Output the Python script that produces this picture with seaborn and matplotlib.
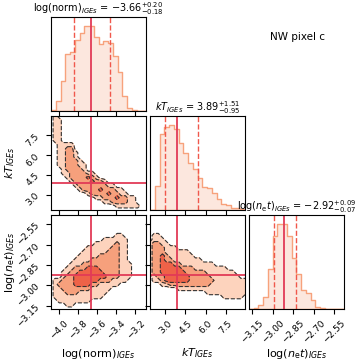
import numpy as np
import pandas as pd
import matplotlib
matplotlib.use("Agg")
import matplotlib.pyplot as plt
import seaborn as sns

# ─── DATA ───────────────────────────────────────────────
LABELS  = [r"$\mathrm{log(norm)}_{IGEs}$", r"$kT_{IGEs}$", r"$\mathrm{log}(n_{\mathrm{e}}t)_{IGEs}$"]
MEDIANS = [-3.66, 3.89, -2.92]
ERR_LO  = [0.18, 0.95, 0.07]
ERR_HI  = [0.20, 1.51, 0.09]
RANGES  = [(-4.08, -3.09), (1.85, 8.95), (-3.175, -2.48)]
TICKS   = [[-4.0, -3.8, -3.6, -3.4, -3.2],
           [3.0, 4.5, 6.0, 7.5],
           [-3.15, -3.00, -2.85, -2.70, -2.55]]

# 20-bin histogram counts
HIST_NORM = [2, 30, 89, 172, 177, 215, 234, 255, 257, 224, 202, 212, 204, 165, 117, 44, 10, 2, 0, 0]
HIST_KT   = [1, 72, 232, 254, 260, 247, 204, 174, 142, 124, 97, 70, 67, 52, 34, 17, 14, 7, 7, 2]
HIST_NET  = [1, 2, 12, 37, 120, 220, 256, 256, 220, 152, 104, 57, 47, 27, 7, 2, 0, 0, 0, 0]

# 2D panels: sigma-level (0..3) on a 24x24 grid, top row first
GRID_NORM_KT = [
    "010000000000000000000000",
    "011000000000000000000000",
    "011000000000000000000000",
    "011000000000000000000000",
    "011000000000000000000000",
    "011000000000000000000000",
    "011000000000000000000000",
    "001111000000000000000000",
    "001122000000000000000000",
    "001122100000000000000000",
    "001122100000000000000000",
    "001122210000000000000000",
    "001122211000000000000000",
    "000122221000000000000000",
    "000112222110000000000000",
    "000012222321000000000000",
    "000001222232210000000000",
    "000000122222221100000000",
    "000000012222322211000000",
    "000000000122223221100000",
    "000000000001122232211000",
    "000000000000011222211000",
    "000000000000000011111100",
    "000000000000000000000000",
]
GRID_NORM_NET = [
    "000000000000000000000000",
    "000000000000000000000000",
    "000000000000000000000000",
    "000000000000000000000000",
    "000000000000000000000000",
    "000000000000000011000000",
    "000000000000011111100000",
    "000000000001111121100000",
    "000000000111111221100000",
    "000000001111112221100000",
    "000000011111222221100000",
    "000000111122222221100000",
    "000001112222222221110000",
    "000011222333222221110000",
    "000112233333322221110000",
    "000122333333332221110000",
    "011222333333222111100000",
    "012222333322111110000000",
    "011222222211111000000000",
    "011122211111110000000000",
    "011111111111100000000000",
    "001111111100000000000000",
    "000011000000000000000000",
    "000000000000000000000000",
]
GRID_KT_NET = [
    "000000000000000000000000",
    "000000000000000000000000",
    "000000000000000000000000",
    "000000000000000000000000",
    "000000000000000000000000",
    "011000000000000000000000",
    "011100000000000000000000",
    "122110000000000000000000",
    "122211100000000000000000",
    "122211111100000000000000",
    "122321111110000000000000",
    "122322111111100000000000",
    "122333221111111100000000",
    "122333332221111111100000",
    "122333333222221111111000",
    "012233333322222111111100",
    "011233333322222211111111",
    "000112222222222111111111",
    "000000011111111111111111",
    "000000000000001111111111",
    "000000000000000000111110",
    "000000000000000000000000",
    "000000000000000000000000",
    "000000000000000000000000",
]

# ─── STYLE ──────────────────────────────────────────────
HIST_COLOR  = "#F7A27C"
FILL_COLORS = ["#FDD3BD", "#F6A07C", "#EE6248"]
TRUTH_COLOR = "#E23B57"
Q_COLOR     = "#F0584C"
FS = 6.5

plt.rcParams["font.family"] = "DejaVu Sans"
plt.rcParams["mathtext.fontset"] = "dejavusans"

fig = plt.figure(figsize=(3.57, 3.61), dpi=100)
W, H = 357, 361
col_x = [51, 150, 249]
row_y = [17, 116, 215]
aw, ah = 95, 94


def make_ax(r, c):
    return fig.add_axes([col_x[c] / W, 1 - (row_y[r] + ah) / H, aw / W, ah / H])


def style_ticks(ax):
    ax.tick_params(labelsize=FS, length=3.5, width=0.8, direction="out")
    for s in ax.spines.values():
        s.set_linewidth(0.8)


def draw_2d(ax, rows, xr, yr):
    z = np.array([[int(ch) for ch in row] for row in rows], dtype=float)
    xs = np.linspace(xr[0], xr[1], z.shape[1])
    ys = np.linspace(yr[1], yr[0], z.shape[0])
    ax.contourf(xs, ys, z, levels=[0.5, 1.5, 2.5, 3.5], colors=FILL_COLORS)
    ax.contour(xs, ys, z, levels=[0.5, 1.5, 2.5], colors="#333333",
               linewidths=0.8, linestyles="--")


hists = [HIST_NORM, HIST_KT, HIST_NET]
grids = {(1, 0): GRID_NORM_KT, (2, 0): GRID_NORM_NET, (2, 1): GRID_KT_NET}

for r in range(3):
    for c in range(r + 1):
        ax = make_ax(r, c)
        xr = RANGES[c]
        if r == c:
            edges = np.linspace(xr[0], xr[1], 21)
            hdf = pd.DataFrame({"value": 0.5 * (edges[:-1] + edges[1:]),
                                "count": hists[c]})
            sns.histplot(data=hdf, x="value", weights="count", bins=edges.tolist(),
                         element="step", fill=True, color=HIST_COLOR, alpha=0.25,
                         linewidth=1.0, edgecolor=HIST_COLOR, ax=ax)
            ax.set_ylim(0, 1.1 * max(hists[c]))
            ax.set_yticks([])
            ax.set_ylabel("")
            ax.axvline(MEDIANS[c], color=TRUTH_COLOR, lw=1.3)
            for q in (MEDIANS[c] - ERR_LO[c], MEDIANS[c] + ERR_HI[c]):
                ax.axvline(q, color=Q_COLOR, lw=1.0, ls="--")
            title = LABELS[c] + " = " + r"$%.2f_{-%.2f}^{+%.2f}$" % (MEDIANS[c], ERR_LO[c], ERR_HI[c])
            ax.set_title(title, fontsize=FS + 0.5, pad=1.5)
        else:
            yr = RANGES[r]
            draw_2d(ax, grids[(r, c)], xr, yr)
            ax.axvline(MEDIANS[c], color=TRUTH_COLOR, lw=1.3)
            ax.axhline(MEDIANS[r], color=TRUTH_COLOR, lw=1.3)
            ax.set_ylim(*yr)
            ax.set_yticks(TICKS[r])
            if c == 0:
                ax.set_ylabel(LABELS[r], fontsize=FS + 1.5)
                ax.yaxis.set_label_coords(-0.36, 0.5)
                for lab in ax.get_yticklabels():
                    lab.set_rotation(45)
            else:
                ax.set_yticklabels([])
        ax.set_xlim(*xr)
        ax.set_xticks(TICKS[c])
        if r == 2:
            ax.set_xlabel(LABELS[c], fontsize=FS + 1.5)
            ax.xaxis.set_label_coords(0.5, -0.40)
            for lab in ax.get_xticklabels():
                lab.set_rotation(45)
        else:
            ax.set_xticklabels([])
            ax.set_xlabel("")
        style_ticks(ax)

fig.text(298 / W, 1 - 37 / H, "NW pixel c", ha="center", va="center", fontsize=7.5)

fig.savefig("out.png", dpi=100)
